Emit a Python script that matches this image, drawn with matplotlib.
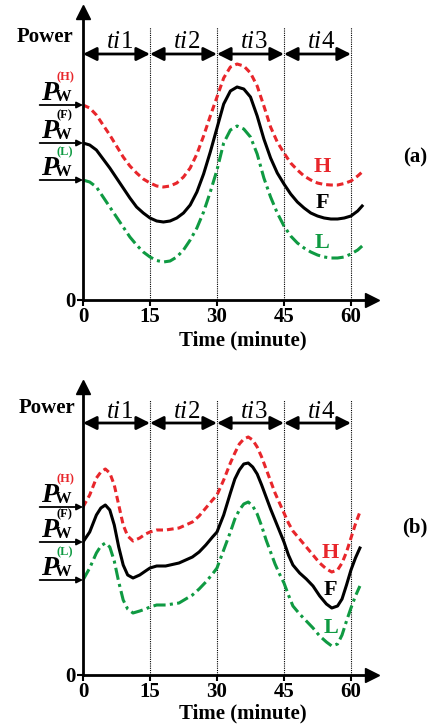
import matplotlib
matplotlib.use("Agg")
import matplotlib.pyplot as plt

plt.rcParams['font.family'] = ['Liberation Serif', 'DejaVu Serif']
plt.rcParams['font.weight'] = 'bold'

RED = '#e8262b'
GREEN = '#0f9a42'

# panel (a): time in minutes and power curves (arbitrary units)
t_a = [0, 1.5, 3, 4.5, 6, 7.5, 9, 10.5, 12, 13.5, 15, 16.5, 18, 19.5, 21, 22.5, 24, 25.5,
       27, 28.5, 30, 31.5, 33, 34.5, 36, 37.5, 39, 40.5, 42, 43.5, 45, 46.5, 48, 49.5,
       51, 52.5, 54, 55.5, 57, 58.5, 60, 61.5, 62.5]
h_a = [195, 192, 185, 175, 165, 154, 143, 134, 127, 121, 117, 114, 113, 114, 117, 123, 132, 146,
       164, 184, 203, 222, 233, 236, 234, 227, 214, 194, 173, 158, 147, 137, 130, 124,
       120, 117, 115.5, 115, 115, 116.5, 119, 124, 128]
f_a = [157, 155, 150, 141, 132, 122, 112, 102, 93, 87, 82, 79, 78, 79, 82, 87, 95, 108,
       126, 148, 172, 196, 209, 213, 211, 203, 184, 161, 142, 127, 116, 106, 98, 92,
       87, 84, 82, 81, 81, 82, 84, 89, 94]
l_a = [120, 118, 113, 103, 93, 83, 73, 63, 55, 48, 43, 39.5, 38, 39, 43, 50, 60, 72,
       88, 108, 130, 157, 170, 174, 171, 163, 146, 122, 103, 87, 74, 64, 57, 52,
       48, 45, 43, 42, 42, 43, 46, 50, 54]

# panel (b)
t_b = [0, 1.5, 3, 4, 5, 6, 7, 8, 9, 10, 11.2, 12.7, 14, 15, 16.5, 18.5, 21.5, 24.5, 26, 27.5,
       29, 30, 31.5, 33, 34, 35, 36, 37, 38, 39, 40, 41, 42, 43, 44, 45, 46, 47, 48.5, 50,
       51.5, 53, 54.5, 55.7, 57, 58, 59, 60, 61, 62]
h_b = [168, 180, 197, 203, 206, 202, 190, 170, 150, 139, 134, 137, 141, 143, 145, 145, 147, 153, 159, 167,
       175, 180, 195, 212, 222, 231, 236, 238, 235, 228, 218, 206, 194, 182, 172, 162, 152, 144, 136, 128,
       120, 112, 106, 103, 105, 112, 123, 137, 151, 163]
f_b = [133, 143, 160, 167, 170, 165, 150, 128, 110, 100, 97, 100, 104, 107, 109, 109, 112, 118, 123, 130,
       138, 143, 160, 182, 196, 205, 211, 212, 208, 201, 190, 178, 166, 155, 144, 133, 120, 110, 102, 96,
       89, 79, 71, 67, 69, 76, 90, 105, 117, 127]
l_b = [95, 107, 122, 129, 132, 128, 114, 93, 75, 66, 62, 64, 66, 68, 70, 70, 72, 80, 86, 93,
       101, 107, 125, 143, 156, 165, 171, 173, 169, 161, 149, 135, 123, 111, 101, 92, 80, 69, 61, 54,
       47, 39, 33, 29, 31, 40, 54, 67, 79, 89]

xticks = [0, 15, 30, 45, 60]
intervals = ['1', '2', '3', '4']
tags = ['(H)', '(F)', '(L)']


def draw_panel(ax, t, h, f, l, ti_y, arrow_y, dot_top, power_xy, lab_pos, xlab_y):
    ax.set_xlim(0, 66.5)
    ax.set_ylim(0, 300)
    for s in ['top', 'right']:
        ax.spines[s].set_visible(False)
    ax.spines['left'].set_bounds(0, 286)
    ax.spines['bottom'].set_bounds(0, 64)
    ax.spines['left'].set_linewidth(2)
    ax.spines['bottom'].set_linewidth(2)
    ax.plot([0], [288], marker='^', ms=10, color='k', clip_on=False)
    ax.plot([64.6], [0], marker='>', ms=10, color='k', clip_on=False)
    ax.set_xticks(xticks)
    ax.set_yticks([0])
    ax.tick_params(direction='out', length=4, width=1.5, labelsize=15, pad=1)
    ax.patch.set_visible(False)

    ax.vlines(xticks[1:], 0, dot_top, colors='k', linestyles=(0, (1, 1)), lw=0.8)
    for i, num in enumerate(intervals):
        ax.annotate('', xy=(15 * (i + 1), arrow_y), xytext=(15 * i, arrow_y),
                    arrowprops=dict(arrowstyle='<|-|>', color='k', lw=2,
                                    mutation_scale=20, shrinkA=0, shrinkB=0),
                    annotation_clip=False)
        cx = 7.5 + 15 * i
        ax.text(cx + 1.0, ti_y, 'ti', ha='right', va='center',
                fontsize=18, fontweight='normal', style='italic')
        ax.text(cx + 1.0, ti_y, num, ha='left', va='center',
                fontsize=18, fontweight='normal')

    ax.plot(t, h, color=RED, lw=2.2, ls=(0, (2.2, 1.3)))
    ax.plot(t, f, color='k', lw=2.2)
    ax.plot(t, l, color=GREEN, lw=2.2, ls=(0, (4, 1.4, 1, 1.4)))

    for y0, tag, c in zip([h[0], f[0], l[0]], tags, [RED, 'k', GREEN]):
        ax.annotate('', xy=(0, y0), xytext=(-9.7, y0),
                    arrowprops=dict(arrowstyle='-|>', color='k', lw=1.3,
                                    mutation_scale=9, shrinkA=0, shrinkB=0),
                    annotation_clip=False)
        ax.text(-9.3, y0 + 5, 'P', fontsize=20, style='italic', va='baseline', clip_on=False)
        ax.text(-6.4, y0 + 4, 'W', fontsize=12, va='baseline', clip_on=False)
        ax.text(-5.9, y0 + 25, tag, fontsize=9, color=c, va='baseline', clip_on=False)

    for (x, y), txt, c in zip(lab_pos, ['H', 'F', 'L'], [RED, 'k', GREEN]):
        ax.text(x, y, txt, color=c, fontsize=16, ha='center', va='center')

    ax.text(power_xy[0], power_xy[1], 'Power', fontsize=15, ha='center', va='center')
    ax.text(35.8, xlab_y, 'Time (minute)', fontsize=15, ha='center', va='center')


fig = plt.figure(figsize=(4.31, 7.26), dpi=100)
ax_a = fig.add_axes([83 / 431, 426 / 726, 297 / 431, 300 / 726])
ax_b = fig.add_axes([83 / 431, 51 / 726, 297 / 431, 300 / 726])

draw_panel(ax_a, t_a, h_a, f_a, l_a, 258, 246, 273, (-8.5, 263),
           [(53.5, 133), (53.5, 97), (53.5, 57)], -40)
draw_panel(ax_b, t_b, h_b, f_b, l_b, 263, 252, 275, (-8.1, 267),
           [(55.3, 122), (55.3, 85), (55.6, 47)], -38)

fig.text(415 / 431, 1 - 157 / 726, '(a)', fontsize=15, ha='center', va='center')
fig.text(415 / 431, 1 - 527 / 726, '(b)', fontsize=15, ha='center', va='center')

fig.savefig('out.png', dpi=100)
